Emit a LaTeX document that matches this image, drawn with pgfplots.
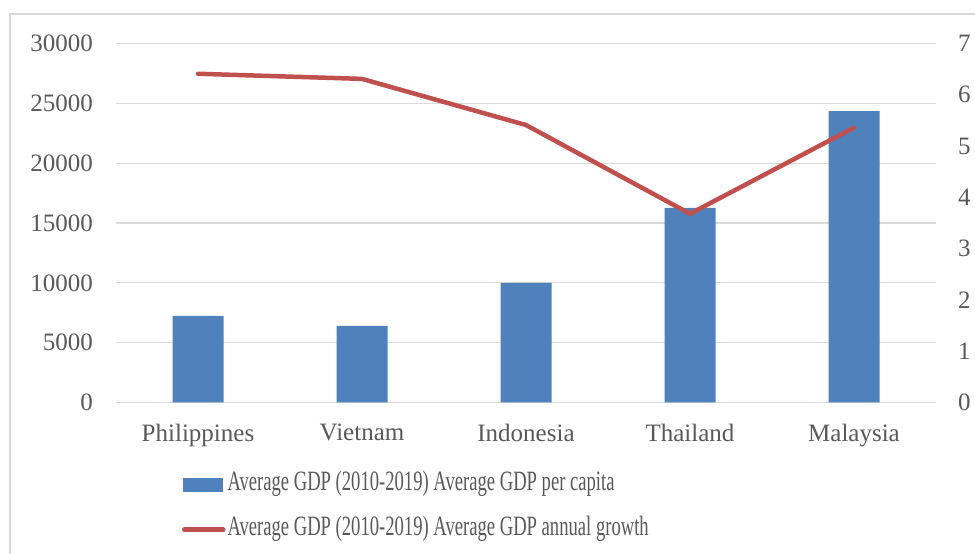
\documentclass[border=0pt]{standalone}
\usepackage{fontspec}
\setmainfont{Liberation Serif}
\newfontfamily\legfont[FakeStretch=0.665]{Liberation Serif}
\usepackage{pgfplots}
\pgfplotsset{compat=1.18}
\definecolor{barblue}{HTML}{4F81BD}
\definecolor{redline}{HTML}{C0504D}
\definecolor{gridgray}{HTML}{D9D9D9}
\definecolor{txtgray}{HTML}{595959}
\begin{document}
\begin{tikzpicture}
\path[use as bounding box, fill=white] (0bp,0bp) rectangle (975bp,554bp);
\draw[gridgray, line width=1.5bp] (10bp,0bp) -- (10bp,540bp) -- (976bp,540bp);
\begin{axis}[
  at={(116bp,151.5bp)}, anchor=south west,
  scale only axis, width=820bp, height=359bp,
  xmin=-0.5, xmax=4.5, ymin=0, ymax=30000,
  xtick={0,1,2,3,4},
  xticklabels={Philippines,Vietnam,Indonesia,Thailand,Malaysia},
  ytick={0,5000,10000,15000,20000,25000,30000},
  scaled y ticks=false,
  /pgf/number format/1000 sep={},
  /pgf/number format/assume math mode=true,
  axis line style={draw=none},
  major tick length=0pt,
  ymajorgrids, grid style={gridgray, line width=1.3bp},
  tick label style={font=\fontsize{25bp}{30bp}\selectfont, text=txtgray, inner sep=0pt},
  yticklabel style={anchor=east, xshift=-23bp},
  xticklabel style={anchor=north, yshift=-21bp},
  ybar, bar width=51bp,
]
\addplot[fill=barblue, draw=none] coordinates {(0,7230) (1,6400) (2,10000) (3,16260) (4,24350)};
\end{axis}
\begin{axis}[
  at={(116bp,151.5bp)}, anchor=south west,
  scale only axis, width=820bp, height=359bp,
  xmin=-0.5, xmax=4.5, ymin=0, ymax=7,
  xtick=\empty,
  ytick={0,1,2,3,4,5,6,7},
  yticklabel pos=right,
  /pgf/number format/assume math mode=true,
  axis line style={draw=none},
  major tick length=0pt,
  tick label style={font=\fontsize{25bp}{30bp}\selectfont, text=txtgray, inner sep=0pt},
  yticklabel style={anchor=west, xshift=22bp},
  legend style={draw=none, fill=none, at={(axis description cs:0.0805,-0.187)}, anchor=north west,
    inner sep=0pt, outer sep=0pt, row sep=15bp,
    nodes={text=txtgray, font=\legfont\fontsize{28bp}{32bp}\selectfont, inner sep=2bp, text height=19bp, text depth=7bp}},
  legend cell align=left,
]
\addlegendimage{legend image code/.code={\fill[barblue] (0bp,-6.3bp) rectangle (39bp,6.3bp);}}
\addlegendentry{Average GDP (2010-2019) Average GDP per capita}
\addplot[redline, line width=4.5bp, line join=round, line cap=round,
  legend image code/.code={\draw[redline, line width=4.5bp, line cap=round] (1bp,0bp) -- (40bp,0bp);}]
  coordinates {(0,6.41) (1,6.31) (2,5.41) (3,3.68) (4,5.36)};
\addlegendentry{Average GDP (2010-2019) Average GDP annual growth}
\end{axis}
\end{tikzpicture}
\end{document}
